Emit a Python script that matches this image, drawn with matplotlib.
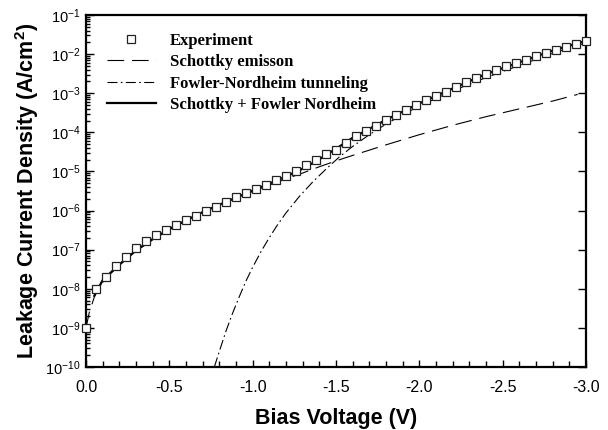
import numpy as np
import matplotlib
matplotlib.use("Agg")
import matplotlib.pyplot as plt
from matplotlib.ticker import FixedLocator, FuncFormatter, LogLocator, NullFormatter

plt.rcParams['font.family'] = ['Liberation Sans', 'DejaVu Sans']
plt.rcParams['axes.unicode_minus'] = False
plt.rcParams['mathtext.fontset'] = 'custom'
plt.rcParams['mathtext.rm'] = 'Liberation Sans'
plt.rcParams['mathtext.bf'] = 'Liberation Sans:bold'

# ---- data (log10 of current density, A/cm^2) ----
exp_v = [0.00, -0.06, -0.12, -0.18, -0.24, -0.30, -0.36, -0.42, -0.48, -0.54,
         -0.60, -0.66, -0.72, -0.78, -0.84, -0.90, -0.96, -1.02, -1.08, -1.14,
         -1.20, -1.26, -1.32, -1.38, -1.44, -1.50, -1.56, -1.62, -1.68, -1.74,
         -1.80, -1.86, -1.92, -1.98, -2.04, -2.10, -2.16, -2.22, -2.28, -2.34,
         -2.40, -2.46, -2.52, -2.58, -2.64, -2.70, -2.76, -2.82, -2.88, -2.94,
         -3.00]
exp_log = [-9.00, -8.01, -7.69, -7.43, -7.19, -6.96, -6.77, -6.62, -6.49, -6.36,
           -6.24, -6.13, -6.01, -5.90, -5.77, -5.66, -5.55, -5.44, -5.35, -5.23,
           -5.12, -4.99, -4.84, -4.72, -4.56, -4.44, -4.27, -4.10, -3.97, -3.85,
           -3.69, -3.56, -3.42, -3.30, -3.18, -3.06, -2.96, -2.84, -2.72, -2.61,
           -2.50, -2.41, -2.31, -2.22, -2.14, -2.05, -1.97, -1.89, -1.81, -1.74,
           -1.67]

sch_v = [0.00, -0.02, -0.06, -0.12, -0.20, -0.30, -0.40, -0.50, -0.60, -0.70,
         -0.80, -0.90, -1.00, -1.10, -1.20, -1.30, -1.40, -1.50, -1.60, -1.80,
         -2.00, -2.20, -2.40, -2.60, -2.80, -2.95]
sch_log = [-9.00, -8.60, -8.08, -7.72, -7.40, -7.03, -6.75, -6.49, -6.26, -6.05,
           -5.86, -5.68, -5.51, -5.35, -5.19, -5.04, -4.88, -4.73, -4.59, -4.32,
           -4.06, -3.82, -3.60, -3.40, -3.20, -3.03]

fn_v = [-0.77, -0.80, -0.84, -0.88, -0.92, -0.96, -1.00, -1.05, -1.10, -1.15,
        -1.20, -1.28, -1.36, -1.44, -1.52, -1.60, -1.70, -1.80, -1.90, -2.00,
        -2.20, -2.40, -2.60, -2.80, -3.00]
fn_log = [-10.00, -9.60, -9.08, -8.62, -8.20, -7.80, -7.45, -7.05, -6.69, -6.36,
          -6.06, -5.64, -5.27, -4.94, -4.63, -4.36, -4.06, -3.79, -3.55, -3.33,
          -2.94, -2.60, -2.29, -1.98, -1.71]

tot_v = [-0.05, -0.10, -0.20, -0.30, -0.40, -0.50, -0.60, -0.70, -0.80, -0.90,
         -1.00, -1.10, -1.20, -1.30, -1.40, -1.50, -1.60, -1.70, -1.80, -1.90,
         -2.00, -2.20, -2.40, -2.60, -2.80, -3.00]
tot_log = [-8.18, -7.78, -7.38, -7.02, -6.73, -6.47, -6.25, -6.04, -5.85, -5.67,
           -5.49, -5.31, -5.13, -4.93, -4.69, -4.42, -4.14, -3.91, -3.68, -3.47,
           -3.26, -2.88, -2.51, -2.21, -1.91, -1.66]

xticks = [0.0, -0.5, -1.0, -1.5, -2.0, -2.5, -3.0]

fig = plt.figure(figsize=(6.08, 4.30), dpi=100)
ax = fig.add_axes([86/608, 1-367/430, 500/608, (367-15)/430])

ax.plot(sch_v, np.power(10.0, sch_log), color='black', lw=0.8,
        dashes=(15, 7), label='Schottky emisson')
ax.plot(fn_v, np.power(10.0, fn_log), color='black', lw=0.8,
        dashes=(9, 3, 1.5, 3), label='Fowler-Nordheim tunneling')
ax.plot(tot_v, np.power(10.0, tot_log), color='black', lw=1.6,
        label='Schottky + Fowler Nordheim')
ax.plot(exp_v, np.power(10.0, exp_log), linestyle='none', marker='s',
        markersize=6.3, markerfacecolor='white', markeredgecolor='#222222',
        markeredgewidth=0.9, label='Experiment', clip_on=False, zorder=5)

ax.set_yscale('log')
ax.set_ylim(1e-10, 1e-1)
ax.set_xlim(0.0, -3.0)

ax.xaxis.set_major_locator(FixedLocator(xticks))
ax.xaxis.set_major_formatter(FuncFormatter(lambda v, p: '%.1f' % v))
ax.xaxis.set_minor_locator(FixedLocator([-0.1 * i for i in range(31)]))
ax.yaxis.set_major_locator(LogLocator(base=10, numticks=20))
ax.yaxis.set_minor_locator(LogLocator(base=10, subs=np.arange(2, 10), numticks=20))
ax.yaxis.set_minor_formatter(NullFormatter())

ax.tick_params(axis='both', which='both', direction='in', width=1.0, top=False)
ax.tick_params(axis='x', which='major', length=5, pad=9, labelsize=11.5)
ax.tick_params(axis='x', which='minor', length=4)
ax.tick_params(axis='y', which='major', length=6, right=True, pad=4, labelsize=10.5)
ax.tick_params(axis='y', which='minor', length=3, right=False)

for s in ax.spines.values():
    s.set_linewidth(1.6)

ax.set_xlabel('Bias Voltage (V)', fontsize=15.5, fontweight='bold', labelpad=10)
ax.set_ylabel(r'Leakage Current Density (A/cm$^\mathbf{2}$)', fontsize=15.5,
              fontweight='bold', labelpad=3)

handles, labels = ax.get_legend_handles_labels()
order = [3, 0, 1, 2]
leg = ax.legend([handles[i] for i in order], [labels[i] for i in order],
                loc='upper left', bbox_to_anchor=(0.029, 0.968), frameon=False,
                prop={'family': 'Liberation Serif', 'weight': 'bold', 'size': 12},
                handlelength=2.9, handletextpad=0.85, labelspacing=0.32,
                borderaxespad=0.0, borderpad=0.4)

fig.savefig('out.png', dpi=100)
